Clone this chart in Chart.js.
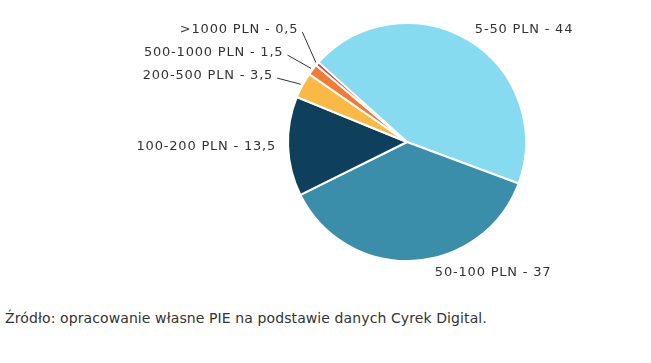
<!DOCTYPE html>
<html>
<head>
<meta charset="utf-8">
<script src="https://cdn.jsdelivr.net/npm/chart.js@4"></script>
<style>
  body { margin: 0; background: #fff; }
  #wrap { position: relative; width: 651px; height: 290px; }
  #source { font-family: "DejaVu Sans", sans-serif; font-size: 14px; letter-spacing: 0.1px; color: #333; margin: 20px 0 0 5px; }
</style>
</head>
<body>
<div id="wrap"><canvas id="pieChart"></canvas></div>
<div id="source">Źródło: opracowanie własne PIE na podstawie danych Cyrek Digital.</div>
<script>
const categories = ["5-50 PLN", "50-100 PLN", "100-200 PLN", "200-500 PLN", "500-1000 PLN", ">1000 PLN"];
const values = [44, 37, 13.5, 3.5, 1.5, 0.5];
const valueLabels = ["44", "37", "13,5", "3,5", "1,5", "0,5"];
const colors = ["#86dbf1", "#3b8eaa", "#0e405c", "#f9b944", "#f37a35", "#e03b3b"];

// etykiety z liniami dla małych wycinków
const labelPlugin = {
  id: "outLabels",
  afterDatasetsDraw(chart) {
    const ctx = chart.ctx;
    const arcs = chart.getDatasetMeta(0).data;
    ctx.save();
    ctx.font = "13px 'DejaVu Sans', sans-serif";
    ctx.letterSpacing = "0.8px";
    ctx.fillStyle = "#333";
    ctx.textBaseline = "middle";
    let lastY = null;
    arcs.forEach((arc, i) => {
      const mid = (arc.startAngle + arc.endAngle) / 2;
      const cx = arc.x, cy = arc.y, r = arc.outerRadius;
      const dx = Math.cos(mid), dy = Math.sin(mid);
      const text = categories[i] + " - " + valueLabels[i];
      if (values[i] >= 5) {
        let x = cx + dx * (r + 12);
        const y = cy + dy * (r + 12);
        if (dy > 0.9) x += 21; // etykieta pod wykresem
        ctx.textAlign = dx >= 0 ? "left" : "right";
        ctx.fillText(text, x, y);
      } else {
        let y = cy + dy * (r + 15);
        if (lastY !== null && y > lastY - 23) y = lastY - 23;
        lastY = y;
        const a = r + 22, b = r + 45;
        const t = (y - cy) / b;
        const x = cx - a * Math.sqrt(Math.max(1 - t * t, 0));
        ctx.strokeStyle = "#333";
        ctx.lineWidth = 1;
        ctx.beginPath();
        ctx.moveTo(cx + dx * (r + 2), cy + dy * (r + 2));
        ctx.lineTo(x, y);
        ctx.stroke();
        ctx.textAlign = "right";
        ctx.fillText(text, x - 4, y - 2);
      }
    });
    ctx.restore();
  }
};

const ctx = document.getElementById("pieChart").getContext("2d");
new Chart(ctx, {
  type: "pie",
  data: {
    labels: categories,
    datasets: [{
      data: values,
      backgroundColor: colors,
      borderColor: "#fff",
      borderWidth: 2,
    }],
  },
  options: {
    responsive: true,
    maintainAspectRatio: false,
    animation: false,
    rotation: -48,
    layout: { padding: { left: 287, right: 124, top: 22, bottom: 28 } },
    plugins: {
      legend: { display: false },
      tooltip: { enabled: false },
    },
  },
  plugins: [labelPlugin],
});
</script>
</body>
</html>
